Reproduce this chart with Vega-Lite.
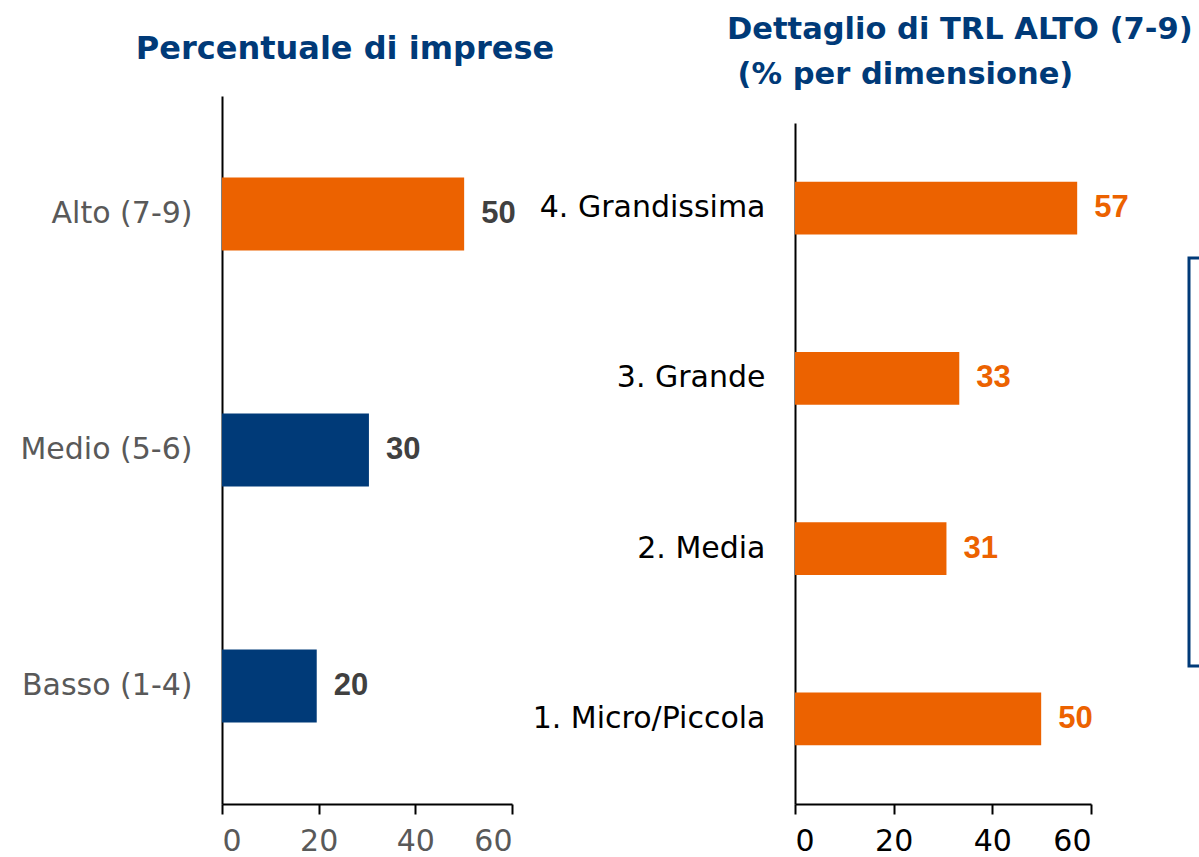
{
  "$schema": "https://vega.github.io/schema/vega-lite/v6.json",
  "padding": {"left": 19, "top": 14, "right": 0, "bottom": 0},
  "background": "white",
  "config": {
    "view": {"stroke": null},
    "font": "DejaVu Sans",
    "title": {"font": "DejaVu Sans", "fontWeight": "bold", "fontSize": 32, "color": "#003A78"}
  },
  "bounds": "flush",
  "spacing": 967,
  "hconcat": [
    {
      "bounds": "flush",
      "spacing": 283,
      "hconcat": [
        {
          "width": 290,
          "height": 708,
          "title": {"text": "Percentuale di imprese", "anchor": "middle", "frame": "group", "dx": -22, "offset": 30},
          "data": {"values": [
            {"trl": "Alto (7-9)", "pct": 50.1, "gruppo": "alto"},
            {"trl": "Medio (5-6)", "pct": 30.4, "gruppo": "altro"},
            {"trl": "Basso (1-4)", "pct": 19.6, "gruppo": "altro"}
          ]},
          "encoding": {
            "y": {"field": "trl", "type": "nominal", "sort": ["Alto (7-9)", "Medio (5-6)", "Basso (1-4)"],
              "scale": {"paddingInner": 0.69, "paddingOuter": 0.345},
              "axis": {"title": null, "ticks": false, "labelPadding": 30, "labelLimit": 400, "labelFontSize": 30, "labelColor": "#595959", "domainColor": "#000000", "domainWidth": 2}},
            "x": {"field": "pct", "type": "quantitative", "scale": {"domain": [0, 60]},
              "axis": {"values": [0, 20, 40, 60], "grid": false, "title": null, "tickSize": 10, "tickColor": "#000000", "tickWidth": 2, "domainColor": "#000000", "domainWidth": 2, "labelFontSize": 30, "labelColor": "#595959", "labelPadding": 12}}
          },
          "layer": [
            {"mark": {"type": "bar"},
             "encoding": {"color": {"field": "gruppo", "type": "nominal", "scale": {"domain": ["alto", "altro"], "range": ["#EC6200", "#003A78"]}, "legend": null}}},
            {"mark": {"type": "text", "align": "left", "baseline": "middle", "dx": 17, "font": "Liberation Sans", "fontWeight": "bold", "fontSize": 31, "color": "#404040"},
             "encoding": {"text": {"field": "pct", "type": "quantitative", "format": ".0f"}}}
          ]
        },
        {
          "width": 296,
          "height": 708,
          "title": {"text": ["Dettaglio di TRL ALTO (7-9)", "\u200b\u00a0(% per dimensione)"], "fontSize": 30.5, "anchor": "start", "frame": "group", "align": "left", "dx": -68, "lineHeight": 45, "offset": 6},
          "data": {"values": [
            {"dim": "4. Grandissima", "pct": 57.2},
            {"dim": "3. Grande", "pct": 33.3},
            {"dim": "2. Media", "pct": 30.7},
            {"dim": "1. Micro/Piccola", "pct": 49.9}
          ]},
          "encoding": {
            "y": {"field": "dim", "type": "nominal", "sort": ["4. Grandissima", "3. Grande", "2. Media", "1. Micro/Piccola"],
              "scale": {"range": [27, 708], "paddingInner": 0.69, "paddingOuter": 0.345},
              "axis": {"title": null, "ticks": false, "labelPadding": 30, "labelLimit": 400, "labelFontSize": 30, "labelColor": "#000000", "domainColor": "#000000", "domainWidth": 2}},
            "x": {"field": "pct", "type": "quantitative", "scale": {"domain": [0, 60]},
              "axis": {"values": [0, 20, 40, 60], "grid": false, "title": null, "tickSize": 10, "tickColor": "#000000", "tickWidth": 2, "domainColor": "#000000", "domainWidth": 2, "labelFontSize": 30, "labelColor": "#000000", "labelPadding": 12}}
          },
          "layer": [
            {"mark": {"type": "bar", "color": "#EC6200"}},
            {"mark": {"type": "text", "align": "left", "baseline": "middle", "dx": 17, "font": "Liberation Sans", "fontWeight": "bold", "fontSize": 31, "color": "#EC6200"},
             "encoding": {"text": {"field": "pct", "type": "quantitative", "format": ".0f"}}}
          ]
        }
      ]
    },
    {
      "bounds": "flush",
      "spacing": 0,
      "vconcat": [
        {"width": 14, "height": 162, "data": {"values": [{}]}, "mark": {"type": "text"}, "encoding": {}},
        {"width": 14, "height": 408, "data": {"values": [{}]}, "mark": {"type": "text"}, "encoding": {},
         "view": {"stroke": "#003A78", "strokeWidth": 3}}
      ]
    }
  ]
}
